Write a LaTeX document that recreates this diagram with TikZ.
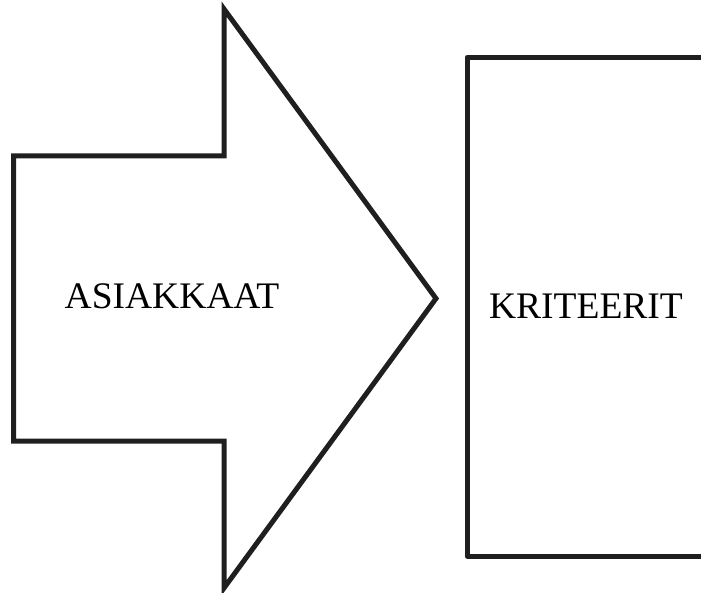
\documentclass[tikz,border=0pt]{standalone}
\usepackage{fontspec}
\setmainfont{Liberation Serif}
\usepackage{tikz}
\usetikzlibrary{calc}
\usetikzlibrary{positioning}

\begin{document}
\begin{tikzpicture}[x=1pt,y=-1pt]
	\tikzset{outline/.style={draw=black!88,line width=5pt},
		label/.style={font=\fontsize{37.5}{40}\selectfont,inner sep=0pt,anchor=base}}
	\useasboundingbox (0,0) rectangle (701,593);
	
	% the big arrow
	\coordinate (S1) at (13.5,156);
	\coordinate (S2) at (224,156);
	\coordinate (H1) at (224,9);
	\coordinate (T) at (436,298.5);
	\coordinate (H2) at (224,588);
	\coordinate (S3) at (224,441);
	\coordinate (S4) at (13.5,441);
	\draw[outline,line join=miter] (S1) -- (S2) -- (H1) -- (T) -- (H2) -- (S3) -- (S4) -- cycle;
	\node[label] (asiakkaat) at (172,309) {ASIAKKAAT};
	
	% the box, cut off at the right
	\coordinate (R1) at (720,57.5);
	\coordinate (R2) at (467,57.5);
	\coordinate (R3) at (467,556);
	\coordinate (R4) at (720,556);
	\draw[outline,line join=round] (R1) -- (R2) -- (R3) -- (R4);
	\node[label] (kriteerit) at (586,319) {KRITEERIT};
	
\end{tikzpicture}
\end{document}
